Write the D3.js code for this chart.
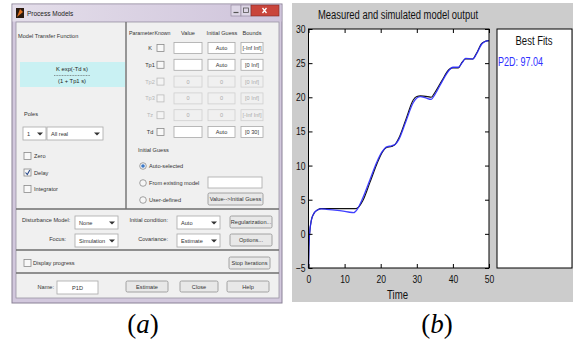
<!DOCTYPE html>
<html>
<head>
<meta charset="utf-8">
<script src="https://cdn.jsdelivr.net/npm/d3@7"></script>
<style>
  body { margin: 0; background: #fff; }
  svg { display: block; }
</style>
</head>
<body>
<div id="chart"></div>
<script>
// ---- data ----
const measTime = [0, 0.1, 0.3, 0.8, 1.5, 2.5, 3.5, 5, 8, 11, 13, 14, 15, 17, 19, 20.5, 21.5, 23, 24, 25, 27, 29, 30, 31, 33, 34, 35, 37, 39, 40, 41.5, 42.5, 43.5, 45.5, 46.5, 48, 49, 50];
const measVal  = [-5, -2, 0, 2, 3, 3.5, 3.7, 3.7, 3.7, 3.7, 3.7, 4.0, 4.8, 7.5, 10.3, 12, 12.6, 12.8, 13.1, 14, 16.8, 19.6, 20.1, 20.2, 20.1, 20, 20.7, 22.5, 24.1, 24.3, 24.3, 25.1, 25.6, 25.6, 26.4, 27.9, 28.2, 28.3];
const simTime  = [0, 0.1, 0.3, 0.8, 1.5, 2.5, 3.5, 5, 8, 11, 12.5, 13.5, 15, 17, 19, 20.5, 21.5, 23, 24, 25, 27, 29, 30, 31, 32.5, 34, 35, 37, 39, 40, 41.5, 42.5, 43.5, 45.5, 46.5, 48, 49, 50];
const simVal   = [-5, -2, 0, 2, 3, 3.5, 3.65, 3.6, 3.45, 3.2, 3.1, 3.6, 5.2, 7.9, 10.6, 12.1, 12.7, 12.9, 13.1, 13.8, 16.5, 19.2, 19.9, 20.1, 19.9, 19.7, 20.4, 22.3, 24, 24.4, 24.4, 25, 25.7, 25.6, 26.3, 27.8, 28.2, 28.3];
const xTicks = [0, 10, 20, 30, 40, 50];
const yTicks = [-5, 0, 5, 10, 15, 20, 25, 30];
const fitLabel = "P2D: 97.04";

// dialog contents
const paramNames   = ["K", "Tp1", "Tp2", "Tp3", "Tz", "Td"];
const paramEnabled = [true, true, false, false, false, true];
const paramGuess   = ["Auto", "Auto", "0", "0", "0", "Auto"];
const paramBounds  = ["[-Inf Inf]", "[0 Inf]", "[0 Inf]", "[0 Inf]", "[-Inf Inf]", "[0 30]"];
const poleChecks   = [["Zero", false], ["Delay", true], ["Integrator", false]];
const guessRadios  = ["Auto-selected", "From existing model", "User-defined"];

const W = 573, H = 349;
const svg = d3.select("#chart").append("svg").attr("width", W).attr("height", H);

// squeeze a text to a fraction of its natural width (or to a fixed width)
function squeeze(sel, k, fixed) {
  sel.each(function () {
    const w = fixed || this.getComputedTextLength() * k;
    d3.select(this).attr("textLength", w).attr("lengthAdjust", "spacingAndGlyphs");
  });
}

// ================= (a) dialog =================
const ui = "'Liberation Sans', Arial, sans-serif";
const dlg = svg.append("g").attr("font-family", ui);

function label(x, y, t, anchor, color, size) {
  return dlg.append("text").attr("x", x).attr("y", y)
    .attr("text-anchor", anchor || "start")
    .attr("font-size", size || 5.6)
    .attr("fill", color || "#333")
    .text(t);
}
function field(x, y, w, h, t, disabled, anchor) {
  dlg.append("rect").attr("x", x).attr("y", y).attr("width", w).attr("height", h)
    .attr("fill", disabled ? "#f0f0f0" : "#fff")
    .attr("stroke", disabled ? "#cfcfcf" : "#a9a9a9").attr("stroke-width", 0.8);
  if (t) label(anchor === "start" ? x + 4 : x + w / 2, y + h / 2 + 2, t, anchor || "middle", disabled ? "#aaa" : "#333");
}
function dropdown(x, y, w, h, t) {
  field(x, y, w, h, t, false, "start");
  dlg.append("path")
    .attr("d", `M${x + w - 9},${y + h / 2 - 1} l3,3 l3,-3 z`).attr("fill", "#333");
}
function button(x, y, w, h, t) {
  dlg.append("rect").attr("x", x).attr("y", y).attr("width", w).attr("height", h).attr("rx", 1.5)
    .attr("fill", "#e8e8e8").attr("stroke", "#8f8f8f").attr("stroke-width", 0.8);
  label(x + w / 2, y + h / 2 + 2, t, "middle");
}
function checkbox(x, y, checked, disabled) {
  dlg.append("rect").attr("x", x).attr("y", y - 3.5).attr("width", 7).attr("height", 7)
    .attr("fill", disabled ? "#f4f4f4" : "#f8f8f8").attr("stroke", disabled ? "#bbb" : "#8a8a8a").attr("stroke-width", 0.8);
  if (checked) dlg.append("path").attr("d", `M${x + 1.5},${y} l1.8,2 l2.5,-4.5`)
    .attr("fill", "none").attr("stroke", "#2a4a8a").attr("stroke-width", 1.1);
}
function radio(x, y, on) {
  dlg.append("circle").attr("cx", x).attr("cy", y).attr("r", 3.3)
    .attr("fill", "#f6f6f6").attr("stroke", "#8a8a8a").attr("stroke-width", 0.8);
  if (on) dlg.append("circle").attr("cx", x).attr("cy", y).attr("r", 1.8).attr("fill", "#3a78c8");
}

// window frame + title bar
dlg.append("rect").attr("x", 12).attr("y", 4).attr("width", 270).attr("height", 299)
  .attr("fill", "#d2c8dd").attr("stroke", "#8a8196").attr("stroke-width", 1);
const tg = svg.append("defs").append("linearGradient").attr("id", "tbar").attr("x1", 0).attr("x2", 1);
tg.append("stop").attr("offset", 0).attr("stop-color", "#e4deea");
tg.append("stop").attr("offset", 1).attr("stop-color", "#cfc4db");
dlg.append("rect").attr("x", 12.5).attr("y", 4.5).attr("width", 269).attr("height", 17).attr("fill", "url(#tbar)");
dlg.append("rect").attr("x", 16).attr("y", 8).attr("width", 8).attr("height", 10).attr("fill", "#2a1a10");
dlg.append("path").attr("d", "M17,17 l3,-8 l3,3 z").attr("fill", "#e07020");
label(27, 16, "Process Models", "start", "#222", 6.5);
// min / max / close
dlg.append("rect").attr("x", 231).attr("y", 5).attr("width", 10).attr("height", 11).attr("fill", "#ddd6e6").attr("stroke", "#8a8196").attr("stroke-width", 0.6);
dlg.append("rect").attr("x", 241).attr("y", 5).attr("width", 10).attr("height", 11).attr("fill", "#ddd6e6").attr("stroke", "#8a8196").attr("stroke-width", 0.6);
dlg.append("rect").attr("x", 251).attr("y", 5).attr("width", 28).attr("height", 11).attr("fill", "#c9453c").attr("stroke", "#7e2a25").attr("stroke-width", 0.6);
dlg.append("path").attr("d", "M233.5,12.5 h5").attr("stroke", "#555").attr("stroke-width", 1.2);
dlg.append("rect").attr("x", 243.5).attr("y", 8).attr("width", 5).attr("height", 4.5).attr("fill", "none").attr("stroke", "#555").attr("stroke-width", 0.8);
dlg.append("path").attr("d", "M262.5,8 l4,5 M266.5,8 l-4,5").attr("stroke", "#fff").attr("stroke-width", 1.3);

// client area
dlg.append("rect").attr("x", 16).attr("y", 22).attr("width", 263).attr("height", 276)
  .attr("fill", "#f0f0f0").attr("stroke", "#9a93a4").attr("stroke-width", 0.8);
function sep(d) {
  dlg.append("path").attr("d", d).attr("stroke", "#6f6f6f").attr("stroke-width", 1.4).attr("fill", "none");
}
sep("M126,22 V209");
sep("M16,209 H279");
sep("M16,250 H279");
sep("M16,273 H279");

// left: model transfer function
label(18, 38, "Model Transfer Function");
dlg.append("rect").attr("x", 20).attr("y", 62).attr("width", 105).attr("height", 25).attr("fill", "#c9f1f3");
label(72, 71, "K exp(-Td s)", "middle", "#222", 5.8);
dlg.append("path").attr("d", "M54,75.5 H90").attr("stroke", "#555").attr("stroke-width", 0.6).attr("stroke-dasharray", "1,0.6");
label(72, 83, "(1 + Tp1 s)", "middle", "#222", 5.8);
label(24, 116, "Poles");
dropdown(23, 127, 23, 13, "1");
dropdown(47, 127, 56, 13, "All real");
poleChecks.forEach((c, i) => {
  checkbox(24, 156 + i * 16.5, c[1]);
  label(34, 158 + i * 16.5, c[0]);
});

// right: parameter table
squeeze(label(129, 35, "Parameter", "start", "#333", 5.4), 0, 25);
squeeze(label(154.5, 35, "Known", "start", "#333", 5.4), 0, 16);
label(188, 35, "Value", "middle");
label(222, 35, "Initial Guess", "middle");
label(252, 35, "Bounds", "middle");
const rowY0 = 48, rowDy = 16.8;
paramNames.forEach((p, i) => {
  const y = rowY0 + i * rowDy, on = paramEnabled[i];
  label(150, y + 2, p, "middle", on ? "#333" : "#b5b5b5");
  checkbox(157, y, false, !on);
  field(174, y - 5.5, 28, 11, on ? "" : "0", !on);
  field(208, y - 5.5, 27, 11, paramGuess[i], !on);
  field(241, y - 5.5, 22, 11, paramBounds[i], !on);
});
label(138, 152, "Initial Guess");
guessRadios.forEach((r, i) => {
  radio(143, 166 + i * 17, i === 0);
  label(149, 168 + i * 17, r);
});
field(208, 177, 54, 11, "");
button(208, 193, 55, 12, "Value-->Initial Guess");

// disturbance / focus / initial condition / covariance
label(22, 222, "Disturbance Model:");
dropdown(75, 216, 43, 13, "None");
label(66, 241, "Focus:", "end");
dropdown(75, 234, 43, 13, "Simulation");
label(168, 222, "Initial condition:", "end");
dropdown(177, 216, 43, 13, "Auto");
button(230, 216, 42, 12, "Regularization...");
label(168, 241, "Covariance:", "end");
dropdown(177, 234, 43, 13, "Estimate");
button(230, 234, 42, 12, "Options...");

checkbox(24, 263, false);
label(33, 265, "Display progress");
button(229, 257, 41, 12, "Stop Iterations");

label(54, 289, "Name:", "end");
field(57, 281, 41, 13, "P1D");
button(126, 281, 42, 11, "Estimate");
button(180, 281, 38, 11, "Close");
button(227, 281, 42, 11, "Help");

// ================= (b) plot =================
const pf = "'Liberation Sans', Arial, sans-serif";
const plot = svg.append("g").attr("font-family", pf);
plot.append("rect").attr("x", 292).attr("y", 3).attr("width", 281).attr("height", 299).attr("fill", "#cccccc");

const x = d3.scaleLinear().domain([0, 50]).range([308.5, 489]);
const y = d3.scaleLinear().domain([-5, 30]).range([268, 29]);

plot.append("rect").attr("x", x(0)).attr("y", y(30)).attr("width", x(50) - x(0)).attr("height", y(-5) - y(30))
  .attr("fill", "#fff");

const line = (tt, vv) => d3.line().curve(d3.curveMonotoneX)
  .x((d, i) => x(tt[i])).y((d, i) => y(vv[i]))(vv);

plot.append("path").attr("d", line(measTime, measVal))
  .attr("fill", "none").attr("stroke", "#111").attr("stroke-width", 1.1);
plot.append("path").attr("d", line(simTime, simVal))
  .attr("fill", "none").attr("stroke", "#2b2bff").attr("stroke-width", 1.3).attr("stroke-opacity", 0.9);

// axes with inward ticks on all four sides (MATLAB box)
const tick = 4;
plot.append("g").attr("transform", `translate(0,${y(-5)})`)
  .call(d3.axisBottom(x).tickValues(xTicks).tickSizeInner(-tick).tickSizeOuter(0).tickPadding(7))
  .call(g => g.select(".domain").remove());
plot.append("g").attr("transform", `translate(0,${y(30)})`)
  .call(d3.axisTop(x).tickValues(xTicks).tickSizeInner(-tick).tickSizeOuter(0).tickFormat(""))
  .call(g => g.select(".domain").remove());
plot.append("g").attr("transform", `translate(${x(0)},0)`)
  .call(d3.axisLeft(y).tickValues(yTicks).tickSizeInner(-tick).tickSizeOuter(0).tickPadding(3))
  .call(g => g.select(".domain").remove());
plot.append("g").attr("transform", `translate(${x(50)},0)`)
  .call(d3.axisRight(y).tickValues(yTicks).tickSizeInner(-tick).tickSizeOuter(0).tickFormat(""))
  .call(g => g.select(".domain").remove());
plot.selectAll(".tick line").attr("stroke", "#000");
plot.selectAll(".tick text").attr("font-family", pf).attr("font-size", 11).attr("fill", "#111")
  .call(squeeze, 0.78);

plot.append("rect").attr("x", x(0)).attr("y", y(30)).attr("width", x(50) - x(0)).attr("height", y(-5) - y(30))
  .attr("fill", "none").attr("stroke", "#000").attr("stroke-width", 1);

plot.append("text").attr("x", 398).attr("y", 19).attr("text-anchor", "middle")
  .attr("font-size", 12).attr("fill", "#111").text("Measured and simulated model output")
  .call(squeeze, 0, 160);
plot.append("text").attr("x", 397.5).attr("y", 299).attr("text-anchor", "middle")
  .attr("font-size", 12).attr("fill", "#111").text("Time")
  .call(squeeze, 0, 21);

// best fits panel
plot.append("rect").attr("x", 497).attr("y", y(30)).attr("width", 75).attr("height", y(-5) - y(30))
  .attr("fill", "#fff").attr("stroke", "#000").attr("stroke-width", 1);
plot.append("text").attr("x", 534).attr("y", 45).attr("text-anchor", "middle")
  .attr("font-size", 12).attr("fill", "#111").text("Best Fits")
  .call(squeeze, 0, 37);
plot.append("text").attr("x", 498).attr("y", 66)
  .attr("font-size", 12).attr("fill", "#3030ff").text(fitLabel)
  .call(squeeze, 0, 45);

// panel captions
const cap = svg.append("g").attr("font-family", "'Liberation Serif', 'Times New Roman', serif").attr("font-size", 27);
[["a", 143], ["b", 437]].forEach(([c, cx]) => {
  const t = cap.append("text").attr("x", cx).attr("y", 333).attr("text-anchor", "middle").attr("fill", "#000");
  t.append("tspan").text("(");
  t.append("tspan").attr("font-style", "italic").text(c);
  t.append("tspan").text(")");
});
</script>
</body>
</html>
